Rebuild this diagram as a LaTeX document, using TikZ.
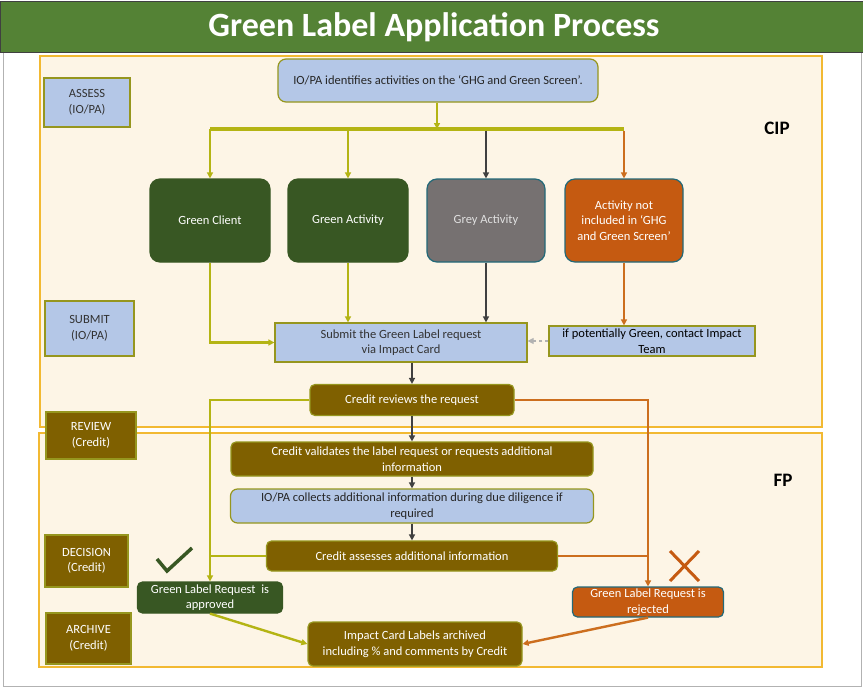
\documentclass[tikz,border=0pt]{standalone}
\usepackage{fontspec}
\setmainfont{Carlito}
\usetikzlibrary{arrows.meta}
\definecolor{titlegreen}{RGB}{84,130,53}
\definecolor{cream}{RGB}{253,245,230}
\definecolor{framegold}{RGB}{242,185,50}
\definecolor{paleblue}{RGB}{180,199,231}
\definecolor{oliveedge}{RGB}{150,150,30}
\definecolor{oliveline}{RGB}{180,180,20}
\definecolor{brownolive}{RGB}{127,96,0}
\definecolor{deepgreen}{RGB}{56,87,35}
\definecolor{greybox}{RGB}{118,113,113}
\definecolor{tealedge}{RGB}{35,105,120}
\definecolor{burnt}{RGB}{197,90,17}
\definecolor{burntline}{RGB}{204,110,30}
\definecolor{darkline}{RGB}{64,64,64}
\tikzset{
  txt/.style={font=\fontsize{12.5}{15.5}\selectfont},
  stagebox/.style={rectangle,draw=oliveedge,line width=1.2pt,inner sep=0pt,align=center,txt},
  bluestage/.style={stagebox,fill=paleblue,text=black!80},
  brownstage/.style={stagebox,fill=brownolive,text=white},
  catbox/.style={rounded corners=10pt,draw=tealedge,line width=1.2pt,inner sep=0pt,align=center,text=white,txt,minimum width=118pt,minimum height=83pt},
  flowbox/.style={rounded corners=5pt,draw=oliveedge,line width=1.2pt,inner sep=0pt,align=center,txt},
  brownbox/.style={flowbox,fill=brownolive,text=white},
  bluebox/.style={flowbox,fill=paleblue,text=black!85},
  tip/.style={-{Triangle[length=6pt,width=6pt]}},
  oarr/.style={draw=oliveline,line width=2.4pt},
  darr/.style={draw=darkline,line width=2.2pt},
  rarr/.style={draw=burntline,line width=2.4pt}
}
\begin{document}
\begin{tikzpicture}[x=1pt,y=-1pt]
\useasboundingbox (0,0) rectangle (863,688);
\fill[white] (0,0) rectangle (863,688);
\draw[gray!60,line width=0.8pt] (3,52) rectangle (861,686);
\fill[titlegreen,draw=black!75,line width=1pt] (0,1) rectangle (863,52);
\node[text=white,font=\bfseries\fontsize{34}{38}\selectfont] (title) at (434,27) {Green Label Application Process};

\filldraw[fill=cream,draw=framegold,line width=1.3pt] (40,56) rectangle (822,427);
\filldraw[fill=cream,draw=framegold,line width=1.3pt] (39,433) rectangle (822,667);
\node[font=\bfseries\fontsize{19}{22}\selectfont] (cip) at (777,128) {CIP};
\node[font=\bfseries\fontsize{19}{22}\selectfont] (fp) at (783,480) {FP};

\node[bluestage,minimum width=86pt,minimum height=49pt] (assess) at (87,102.5) {ASSESS\\(IO/PA)};
\node[bluestage,minimum width=89pt,minimum height=55pt] (submit) at (89.5,328.5) {SUBMIT\\(IO/PA)};
\node[brownstage,minimum width=90pt,minimum height=47pt] (review) at (91,435.5) {REVIEW\\(Credit)};
\node[brownstage,minimum width=83pt,minimum height=52pt] (decision) at (86.5,561) {DECISION\\(Credit)};
\node[brownstage,minimum width=85pt,minimum height=51pt] (archive) at (88.5,638.5) {ARCHIVE\\(Credit)};

\node[bluebox,rounded corners=8pt,minimum width=320pt,minimum height=43pt] (ident) at (438,80.5) {IO/PA identifies activities on the ‘GHG and Green Screen’.};
\node[catbox,fill=deepgreen,draw=deepgreen,minimum width=120pt] (gclient) at (210,220.5) {Green Client};
\node[catbox,fill=deepgreen,draw=deepgreen,minimum width=120pt] (gactivity) at (348,220.5) {Green Activity};
\node[catbox,fill=greybox,text=white!88!black] (grey) at (486,220.5) {Grey Activity};
\node[catbox,fill=burnt] (notinc) at (624,220.5) {Activity not\\included in ‘GHG\\and Green Screen’};

\node[bluestage,minimum width=252pt,minimum height=39pt] (request) at (401,342.5) {Submit the Green Label request\\via Impact Card};
\node[bluestage,text=black,minimum width=206pt,minimum height=30pt] (contact) at (652,341) {if potentially Green, contact Impact\\Team};
\node[brownbox,minimum width=204pt,minimum height=31pt] (reviews) at (412,400) {Credit reviews the request};
\node[brownbox,minimum width=362pt,minimum height=34pt] (validates) at (412,459) {Credit validates the label request or requests additional\\information};
\node[bluebox,rounded corners=7pt,minimum width=363pt,minimum height=34pt] (collects) at (412,506) {IO/PA collects additional information during due diligence if\\required};
\node[brownbox,minimum width=291pt,minimum height=30pt] (assesses) at (412,556) {Credit assesses additional information};
\node[flowbox,fill=deepgreen,draw=deepgreen,text=white,minimum width=145pt,minimum height=31pt] (approved) at (210,597.5) {Green Label Request~ is\\approved};
\node[flowbox,fill=burnt,draw=tealedge,text=white,minimum width=151pt,minimum height=30pt] (rejected) at (648,602) {Green Label Request is\\rejected};
\node[brownbox,minimum width=214pt,minimum height=44pt] (archived) at (415,644) {Impact Card Labels archived\\including \% and comments by Credit};

\coordinate (bus) at (437,129);
\draw[oarr,tip] (ident.south -| bus) -- (bus);
\draw[oarr,line width=3.2pt] (gclient.north |- bus) -- (notinc.north |- bus);
\draw[oarr,tip] (gclient.north |- bus) -- (gclient.north);
\draw[oarr,tip] (gactivity.north |- bus) -- (gactivity.north);
\draw[darr,tip] ([yshift=-1.5pt]grey.north |- bus) -- (grey.north);
\draw[rarr,tip] ([yshift=-1.5pt]notinc.north |- bus) -- (notinc.north);

\draw[oarr,tip] (gclient.south) |- (request.west);
\draw[oarr,tip] (gactivity.south) -- (gactivity.south |- request.north);
\draw[darr,tip] (grey.south) -- (grey.south |- request.north);
\draw[rarr,tip] (notinc.south) -- (notinc.south |- contact.north);
\draw[gray!60,line width=1.2pt,dashed,tip] (contact.west) -- (contact.west -| request.east);

\draw[darr,tip] (reviews.north |- request.south) -- (reviews.north);
\draw[darr,tip] (reviews.south) -- (validates.north);
\draw[darr,tip] (validates.south) -- (collects.north);
\draw[darr,tip] (collects.south) -- (assesses.north);

\draw[oarr,tip] (reviews.west) -| (approved.north);
\draw[oarr] (assesses.west) -- (assesses.west -| approved.north);
\draw[rarr,tip] (reviews.east) -| (rejected.north);
\draw[rarr] (assesses.east) -- (assesses.east -| rejected.north);

\draw[oarr,tip] (approved.south) -- (archived.west);
\draw[rarr,tip] (rejected.south) -- (archived.east);

\draw[deepgreen,line width=3.5pt] (157,559) -- (167,571) -- (192,548);
\draw[burnt,line width=3pt] (670,551) -- (699,581) (670,581) -- (699,551);
\end{tikzpicture}
\end{document}
